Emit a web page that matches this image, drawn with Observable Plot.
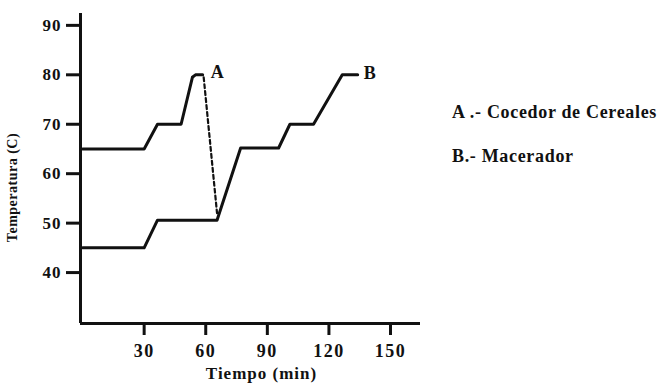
<!DOCTYPE html>
<html>
<head>
<meta charset="utf-8">
<script src="https://cdn.jsdelivr.net/npm/d3@7"></script>
<script src="https://cdn.jsdelivr.net/npm/@observablehq/plot@0.6"></script>
<style>
  html, body { margin: 0; padding: 0; background: #fff; }
  #wrap { position: relative; width: 664px; height: 388px; }
  .leg { position: absolute; left: 452px; display: inline-block; font-family: "Liberation Serif", "Times New Roman", serif; font-weight: bold; font-size: 18px; letter-spacing: 0px; color: #111; white-space: nowrap; }
  g[aria-label="x-axis tick label"] text { letter-spacing: 1.5px; }
  g[aria-label="y-axis tick label"] text { letter-spacing: 1px; }
  g[aria-label="text"] text { letter-spacing: 1px; }
</style>
</head>
<body>
<div id="wrap"></div>
<script>
// Series A: Cocedor de Cereales
const timeA = [0, 30, 36.5, 48, 53.5, 55, 58.5];
const tempA = [65, 65, 70, 70, 79.5, 80, 80];
// Transfer (dashed) from A to B
const timeT = [59, 65.5];
const tempT = [79.5, 52];
// Series B: Macerador
const timeB = [0, 30, 36.5, 65.5, 77, 95.5, 101, 112.5, 126.5, 134];
const tempB = [45, 45, 50.6, 50.6, 65.2, 65.2, 70, 70, 80, 80];

const xTicks = [30, 60, 90, 120, 150];
const yTicks = [40, 50, 60, 70, 80, 90];
const labels = [{t: 62.5, v: 80.6, s: "A"}, {t: 137, v: 80.4, s: "B"}];
const legendItems = ["A .- Cocedor de Cereales", "B.- Macerador"];

const A = timeA.map((t, i) => ({t, v: tempA[i]}));
const T = timeT.map((t, i) => ({t, v: tempT[i]}));
const B = timeB.map((t, i) => ({t, v: tempB[i]}));

const FF = "Liberation Serif, Times New Roman, serif";
const font = {fontFamily: FF, fontWeight: "bold"};

const chart = Plot.plot({
  width: 664,
  height: 388,
  marginLeft: 80,
  marginRight: 244,
  marginTop: 13,
  marginBottom: 65,
  style: {background: "#fff", color: "#111", fontFamily: FF, overflow: "visible"},
  x: {domain: [-1, 164.6]},
  y: {domain: [29.7, 92.4]},
  marks: [
    Plot.axisY({ticks: yTicks, tickSize: 14, tickPadding: 5, strokeWidth: 3, fontSize: 17, label: null, ...font}),
    Plot.axisX({ticks: xTicks, tickSize: 12, tickPadding: 9, strokeWidth: 3, fontSize: 18, label: null, ...font}),
    Plot.ruleX([-1], {y1: 29.7, y2: 92.4, stroke: "#111", strokeWidth: 3}),
    Plot.ruleY([29.7], {x1: -1, x2: 164.6, stroke: "#111", strokeWidth: 3}),
    Plot.line(A, {x: "t", y: "v", stroke: "#111", strokeWidth: 3}),
    Plot.line(T, {x: "t", y: "v", stroke: "#111", strokeWidth: 2.2, strokeDasharray: "4,3"}),
    Plot.line(B, {x: "t", y: "v", stroke: "#111", strokeWidth: 3}),
    Plot.text(labels, {x: "t", y: "v", text: "s", textAnchor: "start", fontSize: 18, fill: "#111", ...font}),
    Plot.text(["Tiempo (min)"], {frameAnchor: "bottom", dx: 11, dy: 55, fontSize: 17, fill: "#111", ...font}),
    Plot.text(["Temperatura (C)"], {frameAnchor: "left", textAnchor: "middle", dx: -68, dy: 19, rotate: -90, fontSize: 14, fill: "#111", ...font})
  ]
});
d3.select(chart).selectAll("text").filter(function() { return this.textContent === "Temperatura (C)"; }).style("letter-spacing", "0.5px");
const wrap = document.getElementById("wrap");
wrap.appendChild(chart);
const legDivs = legendItems.map((s, i) => {
  const d = document.createElement("div");
  d.className = "leg";
  d.style.top = (102 + i * 44) + "px";
  d.textContent = s;
  wrap.appendChild(d);
  return d;
});
// fit the first legend line to the reference width (~205px) via letter spacing
const w0 = legDivs[0].getBoundingClientRect().width;
const ls = Math.max(-0.5, Math.min(2, (205 - w0) / legendItems[0].length));
legDivs.forEach(d => d.style.letterSpacing = ls + "px");
</script>
</body>
</html>
